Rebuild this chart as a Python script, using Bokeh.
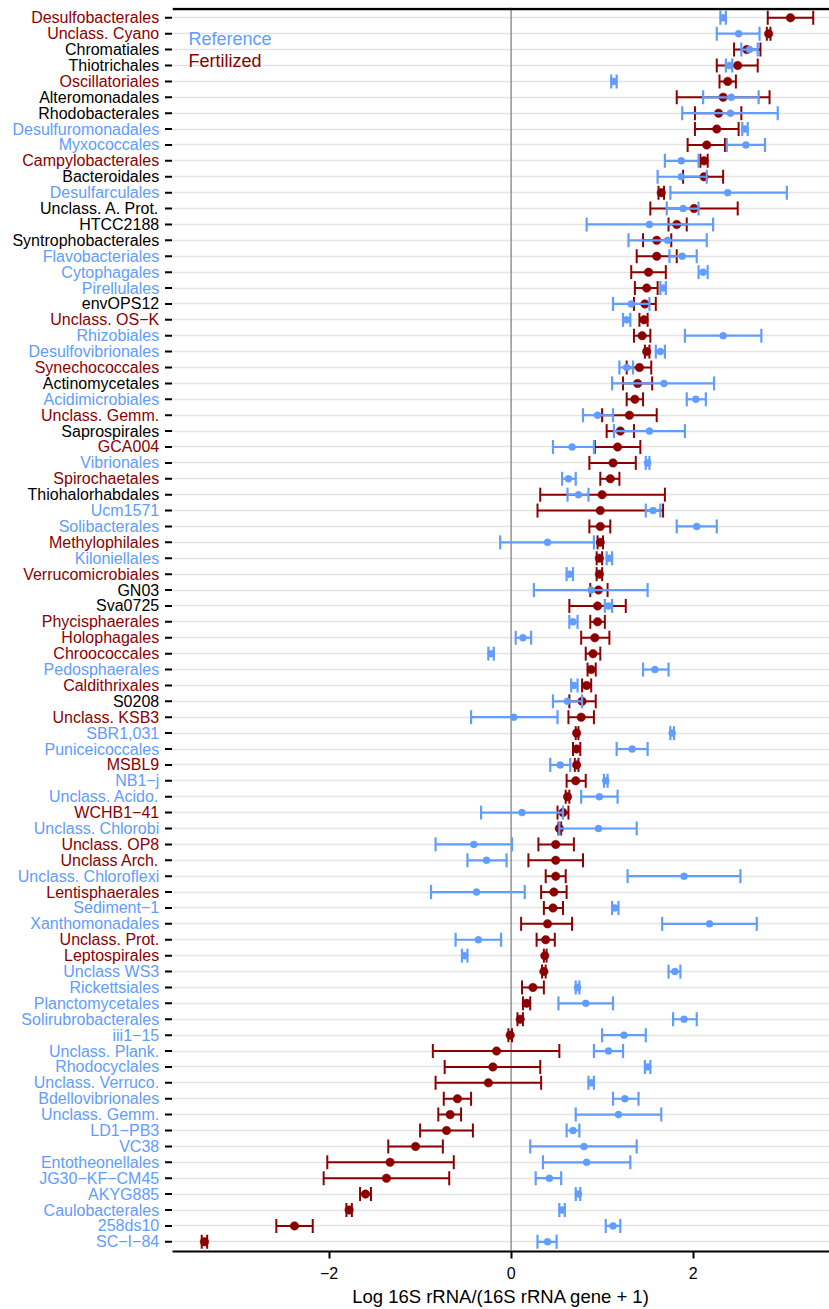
import math
from bokeh.plotting import figure
from bokeh.layouts import row
from bokeh.models import ColumnDataSource, FixedTicker, Span, Label, Range1d
from bokeh.embed import file_html
from bokeh.resources import INLINE
from bokeh.core.properties import value

# ---------------- data ----------------
taxa = [
    "Desulfobacterales", "Unclass. Cyano", "Chromatiales", "Thiotrichales", "Oscillatoriales",
    "Alteromonadales", "Rhodobacterales", "Desulfuromonadales", "Myxococcales", "Campylobacterales",
    "Bacteroidales", "Desulfarculales", "Unclass. A. Prot.", "HTCC2188", "Syntrophobacterales",
    "Flavobacteriales", "Cytophagales", "Pirellulales", "envOPS12", "Unclass. OS\u2212K",
    "Rhizobiales", "Desulfovibrionales", "Synechococcales", "Actinomycetales", "Acidimicrobiales",
    "Unclass. Gemm.", "Saprospirales", "GCA004", "Vibrionales", "Spirochaetales",
    "Thiohalorhabdales", "Ucm1571", "Solibacterales", "Methylophilales", "Kiloniellales",
    "Verrucomicrobiales", "GN03", "Sva0725", "Phycisphaerales", "Holophagales",
    "Chroococcales", "Pedosphaerales", "Caldithrixales", "S0208", "Unclass. KSB3",
    "SBR1,031", "Puniceicoccales", "MSBL9", "NB1\u2212j", "Unclass. Acido.",
    "WCHB1\u221241", "Unclass. Chlorobi", "Unclass. OP8", "Unclass Arch.", "Unclass. Chloroflexi",
    "Lentisphaerales", "Sediment\u22121", "Xanthomonadales", "Unclass. Prot.", "Leptospirales",
    "Unclass WS3", "Rickettsiales", "Planctomycetales", "Solirubrobacterales", "iii1\u221215",
    "Unclass. Plank.", "Rhodocyclales", "Unclass. Verruco.", "Bdellovibrionales", "Unclass. Gemm.",
    "LD1\u2212PB3", "VC38", "Entotheonellales", "JG30\u2212KF\u2212CM45", "AKYG885",
    "Caulobacterales", "258ds10", "SC\u2212I\u221284",
]

# F = label coloured as fertilized, R = as reference, N = black
label_group = [
    "F", "F", "N", "N", "F", "N", "N", "R", "R", "F",
    "N", "R", "N", "N", "N", "R", "R", "R", "N", "F",
    "R", "R", "F", "N", "R", "F", "N", "F", "R", "F",
    "N", "R", "R", "F", "R", "F", "N", "N", "F", "F",
    "F", "R", "F", "N", "F", "R", "R", "F", "R", "R",
    "F", "R", "F", "F", "R", "F", "R", "R", "F", "F",
    "R", "R", "R", "R", "R", "R", "R", "R", "R", "R",
    "R", "R", "R", "R", "R", "R", "R", "R",
]

fert_mean = [
    3.07, 2.83, 2.59, 2.49, 2.38, 2.33, 2.28, 2.26, 2.15, 2.12,
    2.12, 1.65, 2.01, 1.82, 1.60, 1.60, 1.51, 1.49, 1.47, 1.46,
    1.44, 1.49, 1.41, 1.39, 1.36, 1.30, 1.20, 1.17, 1.12, 1.09,
    1.00, 0.98, 0.98, 0.98, 0.97, 0.97, 0.96, 0.95, 0.95, 0.92,
    0.90, 0.88, 0.83, 0.78, 0.77, 0.72, 0.72, 0.72, 0.71, 0.62,
    0.57, 0.53, 0.49, 0.49, 0.49, 0.47, 0.46, 0.40, 0.38, 0.37,
    0.36, 0.24, 0.17, 0.10, -0.01, -0.16, -0.20, -0.25, -0.59, -0.67,
    -0.71, -1.05, -1.33, -1.37, -1.60, -1.78, -2.38, -3.37,
]
fert_lo = [
    2.82, 2.81, 2.45, 2.26, 2.29, 1.82, 2.02, 2.02, 1.94, 2.08,
    1.89, 1.62, 1.53, 1.73, 1.45, 1.38, 1.32, 1.36, 1.35, 1.41,
    1.35, 1.47, 1.27, 1.23, 1.27, 1.00, 1.05, 0.92, 0.86, 0.98,
    0.32, 0.29, 0.86, 0.95, 0.94, 0.94, 0.87, 0.64, 0.87, 0.77,
    0.82, 0.84, 0.78, 0.64, 0.63, 0.71, 0.68, 0.70, 0.61, 0.60,
    0.51, 0.52, 0.30, 0.19, 0.38, 0.33, 0.36, 0.11, 0.28, 0.36,
    0.34, 0.12, 0.13, 0.07, -0.03, -0.86, -0.73, -0.83, -0.74, -0.80,
    -1.00, -1.35, -2.02, -2.06, -1.66, -1.81, -2.58, -3.40,
]
fert_hi = [
    3.32, 2.85, 2.74, 2.71, 2.47, 2.84, 2.53, 2.50, 2.35, 2.16,
    2.33, 1.68, 2.49, 1.93, 1.76, 1.82, 1.70, 1.61, 1.59, 1.50,
    1.53, 1.52, 1.54, 1.55, 1.45, 1.60, 1.35, 1.42, 1.37, 1.19,
    1.69, 1.67, 1.09, 1.01, 1.00, 1.00, 1.06, 1.26, 1.03, 1.08,
    0.98, 0.93, 0.88, 0.93, 0.91, 0.74, 0.76, 0.74, 0.82, 0.64,
    0.63, 0.55, 0.69, 0.79, 0.60, 0.61, 0.57, 0.67, 0.48, 0.39,
    0.38, 0.36, 0.21, 0.13, 0.01, 0.53, 0.32, 0.33, -0.44, -0.55,
    -0.42, -0.75, -0.63, -0.68, -1.54, -1.75, -2.18, -3.34,
]

ref_mean = [
    2.33, 2.50, 2.62, 2.40, 1.13, 2.42, 2.41, 2.57, 2.58, 1.87,
    1.87, 2.38, 1.89, 1.52, 1.72, 1.88, 2.11, 1.67, 1.32, 1.27,
    2.33, 1.64, 1.27, 1.68, 2.03, 0.95, 1.52, 0.67, 1.50, 0.63,
    0.74, 1.56, 2.04, 0.40, 1.08, 0.64, 0.88, 1.07, 0.68, 0.13,
    -0.22, 1.58, 0.69, 0.62, 0.03, 1.77, 1.33, 0.54, 1.04, 0.97,
    0.12, 0.96, -0.41, -0.27, 1.90, -0.38, 1.14, 2.18, -0.36, -0.51,
    1.80, 0.73, 0.82, 1.90, 1.24, 1.07, 1.50, 0.88, 1.25, 1.18,
    0.68, 0.80, 0.83, 0.42, 0.74, 0.56, 1.12, 0.40,
]
ref_lo = [
    2.30, 2.26, 2.53, 2.36, 1.10, 2.11, 1.88, 2.54, 2.37, 1.69,
    1.61, 1.75, 1.71, 0.83, 1.29, 1.74, 2.06, 1.64, 1.12, 1.23,
    1.91, 1.59, 1.19, 1.11, 1.93, 0.79, 1.13, 0.46, 1.48, 0.56,
    0.62, 1.48, 1.82, -0.12, 1.05, 0.61, 0.25, 1.03, 0.64, 0.05,
    -0.25, 1.45, 0.66, 0.46, -0.44, 1.75, 1.16, 0.43, 1.02, 0.77,
    -0.33, 0.53, -0.83, -0.48, 1.28, -0.88, 1.11, 1.66, -0.61, -0.54,
    1.73, 0.71, 0.52, 1.78, 1.00, 0.91, 1.47, 0.85, 1.12, 0.71,
    0.61, 0.21, 0.35, 0.27, 0.71, 0.53, 1.04, 0.29,
]
ref_hi = [
    2.36, 2.73, 2.71, 2.43, 1.16, 2.72, 2.93, 2.60, 2.79, 2.06,
    2.15, 3.03, 2.06, 2.22, 2.15, 2.04, 2.16, 1.70, 1.52, 1.31,
    2.75, 1.69, 1.34, 2.23, 2.14, 1.12, 1.91, 0.91, 1.52, 0.71,
    0.85, 1.64, 2.26, 0.91, 1.11, 0.68, 1.50, 1.11, 0.73, 0.22,
    -0.19, 1.73, 0.73, 0.78, 0.51, 1.79, 1.50, 0.65, 1.06, 1.17,
    0.57, 1.38, 0.01, -0.05, 2.52, 0.15, 1.18, 2.70, -0.11, -0.48,
    1.86, 0.75, 1.12, 2.04, 1.48, 1.23, 1.53, 0.91, 1.40, 1.65,
    0.75, 1.38, 1.31, 0.55, 0.76, 0.59, 1.20, 0.50,
]

x_ticks = [-2, 0, 2]
x_tick_labels = {-2: "\u22122", 0: "0", 2: "2"}

# ---------------- styling ----------------
FONT = "Liberation Sans"
RED = "#8B0000"
BLUE = "#619CFF"
group_color = {"F": RED, "R": BLUE, "N": "#000000"}

n = len(taxa)
ypos = [n - i for i in range(n)]

src = ColumnDataSource(dict(
    y=ypos,
    taxon=taxa,
    color=[group_color[g] for g in label_group],
    fm=fert_mean, flo=fert_lo, fhi=fert_hi,
    rm=ref_mean, rlo=ref_lo, rhi=ref_hi,
))

LEFT_W = 172          # width of the label column
FRAME_W = 657
FRAME_H = 1244
TOP = 7
ROW_PX = 15.896
X0 = -3.721
X1 = X0 + FRAME_W / 91.0
Y1 = 78 + 10.3 / ROW_PX
Y0 = Y1 - FRAME_H / ROW_PX
yr = Range1d(Y0, Y1)

# ---------- main plot ----------
p = figure(
    frame_width=FRAME_W, frame_height=FRAME_H,
    x_range=Range1d(X0, X1), y_range=yr,
    output_backend="svg", toolbar_location=None,
    min_border_left=0, min_border_right=0, min_border_top=TOP, min_border_bottom=0,
)
p.outline_line_color = None
p.background_fill_color = "white"
p.border_fill_color = "white"
p.yaxis.visible = False

p.ygrid.ticker = FixedTicker(ticks=ypos)
p.ygrid.grid_line_color = "#E4E4E4"
p.ygrid.grid_line_width = 1.3
p.xgrid.grid_line_color = None

p.xaxis.ticker = FixedTicker(ticks=x_ticks)
p.xaxis.major_label_overrides = x_tick_labels
p.xaxis.axis_line_width = 2.2
p.xaxis.axis_line_color = "black"
p.xaxis.major_tick_line_width = 2
p.xaxis.major_tick_out = 7
p.xaxis.major_tick_in = 0
p.xaxis.minor_tick_line_color = None
p.xaxis.major_label_text_font = FONT
p.xaxis.major_label_text_font_size = "16px"
p.xaxis.major_label_text_color = "black"
p.xaxis.major_label_standoff = 8
p.xaxis.axis_label = "Log 16S rRNA/(16S rRNA gene + 1)"
p.xaxis.axis_label_text_font = FONT
p.xaxis.axis_label_text_font_size = "18.5px"
p.xaxis.axis_label_text_font_style = "normal"
p.xaxis.axis_label_text_color = "black"
p.xaxis.axis_label_standoff = 4

p.add_layout(Span(location=0, dimension="height", line_color="#7A7A7A", line_width=1.2, level="underlay"))
p.add_layout(Span(location=Y1 - 1.5 / ROW_PX, dimension="width", line_color="black", line_width=2.4))

# fertilized (dark red)
p.segment(x0="flo", y0="y", x1="fhi", y1="y", line_color=RED, line_width=2, source=src)
p.scatter(x="flo", y="y", marker="dash", angle=math.pi / 2, size=14, line_color=RED, line_width=2, source=src)
p.scatter(x="fhi", y="y", marker="dash", angle=math.pi / 2, size=14, line_color=RED, line_width=2, source=src)
p.scatter(x="fm", y="y", marker="circle", size=8.5, fill_color=RED, line_color=RED, line_width=0.5, source=src)

# reference (blue)
p.segment(x0="rlo", y0="y", x1="rhi", y1="y", line_color=BLUE, line_width=2.2, source=src)
p.scatter(x="rlo", y="y", marker="dash", angle=math.pi / 2, size=14, line_color=BLUE, line_width=2.2, source=src)
p.scatter(x="rhi", y="y", marker="dash", angle=math.pi / 2, size=14, line_color=BLUE, line_width=2.2, source=src)
p.scatter(x="rm", y="y", marker="circle", size=7, fill_color=BLUE, line_color=BLUE, line_width=0.5, source=src)

p.add_layout(Label(x=-3.545, y=Y1 - 31 / ROW_PX, text="Reference", text_color=BLUE,
                   text_font=FONT, text_font_size="18px", text_baseline="middle"))
p.add_layout(Label(x=-3.545, y=Y1 - 53 / ROW_PX, text="Fertilized", text_color=RED,
                   text_font=FONT, text_font_size="18px", text_baseline="middle"))

# ---------- label column (category names with individual colours + ticks) ----------
lab = figure(
    frame_width=LEFT_W, frame_height=FRAME_H,
    x_range=Range1d(0, LEFT_W), y_range=yr,
    output_backend="svg", toolbar_location=None,
    min_border_left=0, min_border_right=0, min_border_top=TOP, min_border_bottom=0,
)
lab.axis.visible = False
lab.grid.visible = False
lab.outline_line_color = None
lab.background_fill_color = "white"
lab.border_fill_color = "white"

lab.text(x=158.7, y="y", text="taxon", text_color="color", source=src,
         text_align="right", text_baseline="middle",
         text_font=value(FONT), text_font_size=value("16px"))
lab.segment(x0=164.5, y0="y", x1=LEFT_W + 1, y1="y", line_color="black", line_width=2, source=src)

layout = row(lab, p, spacing=0)
open("out.html", "w").write(file_html(layout, INLINE))
